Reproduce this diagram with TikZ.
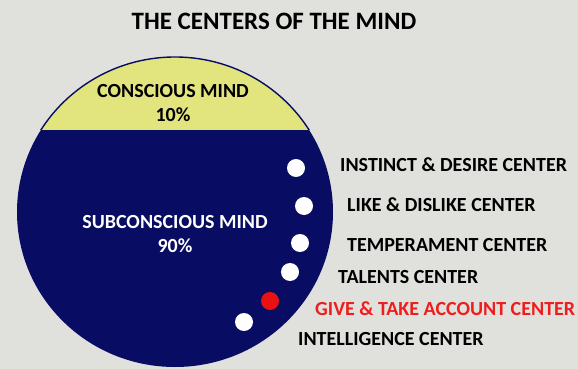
\documentclass[tikz,border=0pt]{standalone}
\usepackage{fontspec}
\setmainfont{Carlito}
\definecolor{bg}{RGB}{224,224,221}
\definecolor{navy}{RGB}{8,12,98}
\definecolor{capyellow}{RGB}{226,228,126}
\definecolor{dotred}{RGB}{232,18,18}
\definecolor{labred}{RGB}{236,30,30}
\tikzset{
  lab/.style={font=\bfseries\fontsize{20}{24}\selectfont, text=black, inner sep=0pt, anchor=west},
  dot/.style={circle, fill=white, minimum size=18pt, inner sep=0pt},
  midtext/.style={font=\bfseries\fontsize{20}{24}\selectfont, align=center, inner sep=0pt}
}
\begin{document}
\begin{tikzpicture}[x=1pt,y=-1pt]
\fill[bg] (0,0) rectangle (578,369);
\useasboundingbox (0,0) rectangle (578,369);
% subconscious body
\begin{scope}
  \clip (0,130.5) rectangle (578,369);
  \fill[navy] (175,212) ellipse [x radius=158pt, y radius=155pt];
\end{scope}
% conscious cap
\begin{scope}
  \clip (0,0) rectangle (578,129);
  \fill[capyellow] (175,212) ellipse [x radius=158pt, y radius=155pt];
  \draw[navy, line width=1.4pt] (175,212) ellipse [x radius=158pt, y radius=155pt];
\end{scope}
\node[font=\bfseries\fontsize{25}{28}\selectfont, inner sep=0pt] (title) at (274,21.5) {THE CENTERS OF THE MIND};
\node[midtext, text=black] (cons) at (173,103.5) {CONSCIOUS MIND\\10\%};
\node[midtext, text=white] (sub) at (175,234) {SUBCONSCIOUS MIND\\90\%};
% centers
\node[dot] (d1) at (296,168) {};
\node[dot] (d2) at (304,206) {};
\node[dot] (d3) at (300,243) {};
\node[dot] (d4) at (290,272) {};
\node[dot, fill=dotred] (d5) at (270,301) {};
\node[dot] (d6) at (244,322) {};
\node[lab] (l1) at (340,165) {INSTINCT \& DESIRE CENTER};
\node[lab] (l2) at (347,205) {LIKE \& DISLIKE CENTER};
\node[lab] (l3) at (347,245) {TEMPERAMENT CENTER};
\node[lab] (l4) at (338,277) {TALENTS CENTER};
\node[lab, text=labred] (l5) at (315,309) {GIVE \& TAKE ACCOUNT CENTER};
\node[lab] (l6) at (298,339) {INTELLIGENCE CENTER};
\end{tikzpicture}
\end{document}
